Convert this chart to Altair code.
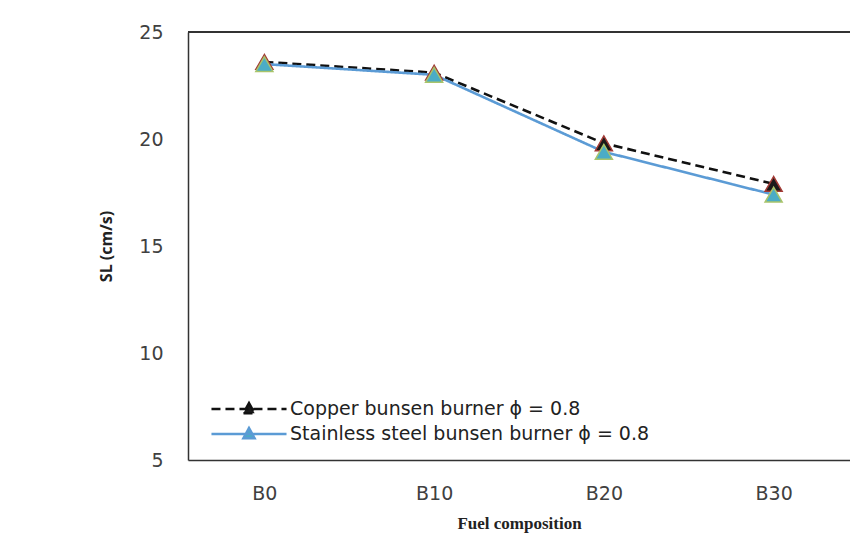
import altair as alt
import pandas as pd

categories = ["B0", "B10", "B20", "B30"]
copper = [23.6, 23.1, 19.8, 17.9]
stainless = [23.5, 23.0, 19.4, 17.4]
series_names = ["Copper bunsen burner ϕ = 0.8", "Stainless steel bunsen burner ϕ = 0.8"]

rows = []
for name, vals in zip(series_names, [copper, stainless]):
    for c, v in zip(categories, vals):
        rows.append({"fuel": c, "sl": v, "series": name})
df = pd.DataFrame(rows)

x_enc = alt.X("fuel:N", sort=categories, scale=alt.Scale(type="point", padding=0.45),
              axis=alt.Axis(title="Fuel composition", labelAngle=0, labelPadding=24,
                            ticks=False, domain=True, domainColor="#333", domainWidth=1.5,
                            labelFont="DejaVu Sans", labelFontSize=19, labelColor="#404040",
                            titleFont="Liberation Serif", titleFontSize=17, titleFontWeight="bold",
                            titleColor="#222", titlePadding=12))
y_enc = alt.Y("sl:Q", scale=alt.Scale(domain=[5, 25], padding=0, nice=False, zero=False),
              axis=alt.Axis(title="SL (cm/s)", values=[5, 10, 15, 20, 25], grid=False, ticks=False,
                            labelPadding=25, domainColor="#333", domainWidth=1.5,
                            labelFont="DejaVu Sans", labelFontSize=19, labelColor="#404040",
                            titleFont="Open Sans", titleFontSize=16, titleFontWeight="bold",
                            titleColor="#222", titlePadding=24))

lines = alt.Chart(df).mark_line(strokeWidth=2.6).encode(
    x=x_enc, y=y_enc,
    stroke=alt.Stroke("series:N", title=None,
                      scale=alt.Scale(domain=series_names, range=["#111111", "#5b9bd5"])),
    strokeDash=alt.StrokeDash("series:N", title=None,
                              scale=alt.Scale(domain=series_names, range=[[9, 5], [1, 0]])),
)

points = alt.Chart(df).mark_point(shape="triangle-up", filled=True, size=290, strokeWidth=1.5, opacity=1).encode(
    x=x_enc, y=y_enc,
    fill=alt.Fill("series:N", title=None,
                  scale=alt.Scale(domain=series_names, range=["#1a1a1a", "#4bacc6"])),
    stroke=alt.condition("datum.series == '" + series_names[0] + "'",
                         alt.value("#a33b36"), alt.value("#a9c46a")),
)

top = alt.Chart(df).mark_rule(color="#333", strokeWidth=1.5).encode(y=alt.datum(25))

chart = alt.layer(lines, points, top).properties(
    width=662, height=428,
    autosize=alt.AutoSizeParams(type="none"),
    padding={"left": 180, "top": 24, "right": 0, "bottom": 74},
    background="white",
).configure_view(stroke=None).configure_legend(
    orient="none", legendX=46, legendY=362,
    symbolType="M-2.78,0H2.78M0,-0.45L0.42,0.32L-0.42,0.32Z",
    symbolSize=729, symbolStrokeWidth=2.4, labelOffset=26, rowPadding=0,
    labelFont="DejaVu Sans", labelFontSize=19, labelColor="#222", labelLimit=600,
)

chart.save("out.html", embed_options={"renderer": "svg", "actions": False})
